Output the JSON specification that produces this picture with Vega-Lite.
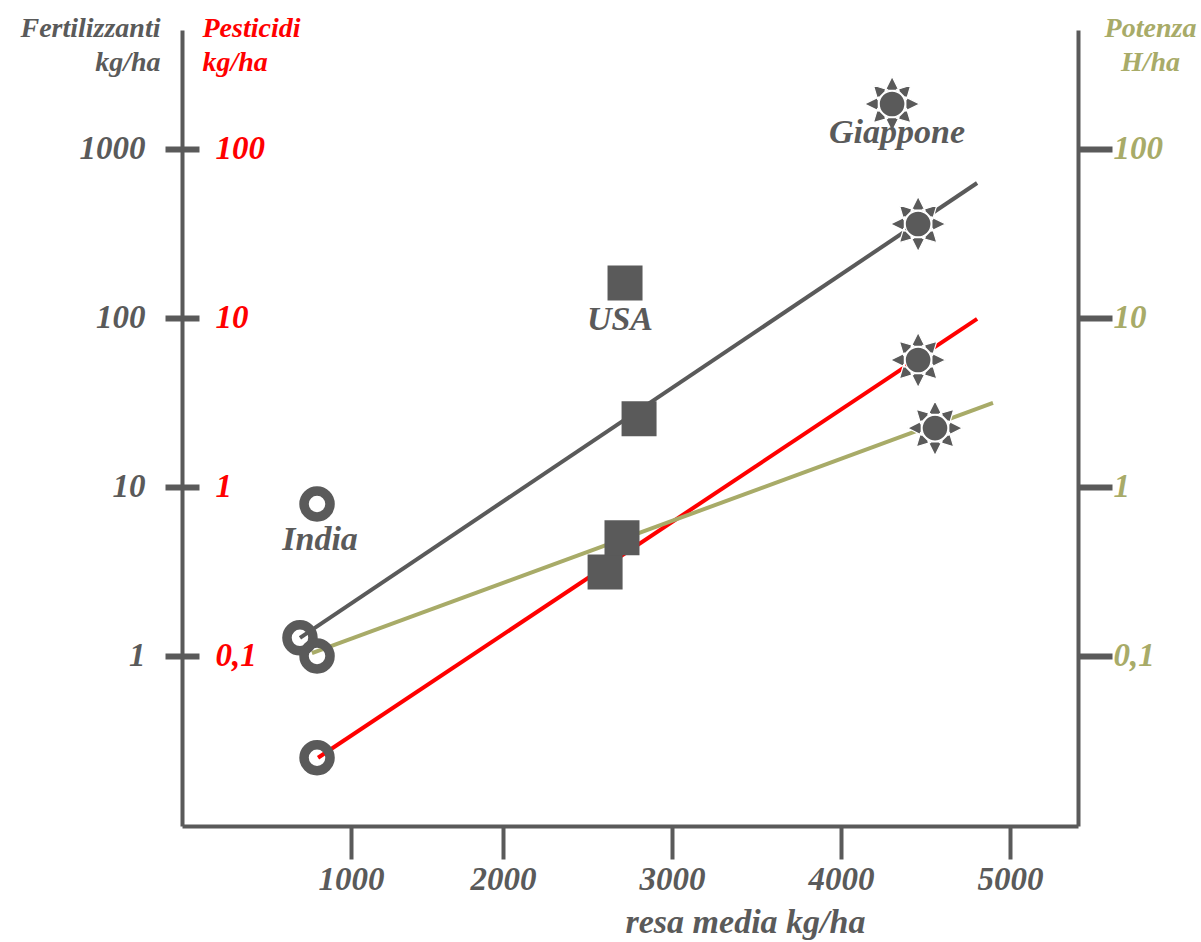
{
  "$schema": "https://vega.github.io/schema/vega-lite/v6.json",
  "width": 896,
  "height": 796,
  "autosize": {"type": "none"},
  "padding": {"left": 182, "top": 30, "right": 123, "bottom": 116},
  "background": "white",
  "datasets": {
    "points": [
      {"country": "India", "measure": "Fertilizzanti", "yield": 698, "value": 1.28},
      {"country": "India", "measure": "Pesticidi", "yield": 799, "value": 0.025},
      {"country": "India", "measure": "Potenza", "yield": 799, "value": 0.1},
      {"country": "USA", "measure": "Fertilizzanti", "yield": 2805, "value": 25.3},
      {"country": "USA", "measure": "Pesticidi", "yield": 2604, "value": 0.314},
      {"country": "USA", "measure": "Potenza", "yield": 2704, "value": 0.5},
      {"country": "Giappone", "measure": "Fertilizzanti", "yield": 4456, "value": 360},
      {"country": "Giappone", "measure": "Pesticidi", "yield": 4456, "value": 5.64},
      {"country": "Giappone", "measure": "Potenza", "yield": 4556, "value": 2.23}
    ],
    "fits": [
      {"measure": "Fertilizzanti", "yield": 698, "value": 1.28},
      {"measure": "Fertilizzanti", "yield": 4805, "value": 629},
      {"measure": "Pesticidi", "yield": 805, "value": 0.025},
      {"measure": "Pesticidi", "yield": 4805, "value": 9.87},
      {"measure": "Potenza", "yield": 769, "value": 0.104},
      {"measure": "Potenza", "yield": 4899, "value": 3.14}
    ],
    "countries": [
      {"country": "India", "yield": 799, "value": 7.93, "labelYield": 817, "labelValue": 4.86},
      {"country": "USA", "yield": 2722, "value": 161, "labelYield": 2692, "labelValue": 97.3},
      {"country": "Giappone", "yield": 4302, "value": 1846, "labelYield": 4331, "labelValue": 1244}
    ]
  },
  "layer": [
    {
      "data": {"name": "fits"},
      "transform": [{"filter": "datum.measure == 'Fertilizzanti'"}],
      "mark": {"type": "line", "color": "#5a5a5a", "strokeWidth": 4},
      "encoding": {
        "x": {
          "field": "yield", "type": "quantitative",
          "scale": {"domain": [0, 1000, 2000, 5402], "range": [0, 169, 321, 896], "nice": false, "zero": false},
          "axis": {
            "orient": "bottom", "values": [1000, 2000, 3000, 4000, 5000], "format": "d",
            "domainColor": "#5a5a5a", "domainWidth": 4, "tickSize": 33, "tickWidth": 4,
            "labelColor": "#5a5a5a", "labelPadding": 4, "labelFontSize": 33,
            "title": "resa media kg/ha", "titleColor": "#5a5a5a", "titleFontSize": 34,
            "titleX": 563, "titleY": 106, "titleAlign": "center", "titleBaseline": "alphabetic"
          }
        },
        "y": {"field": "value", "type": "quantitative", "scale": {"type": "log", "domain": [0.0986, 5059], "nice": false}, "axis": null}
      }
    },
    {
      "data": {"name": "fits"},
      "transform": [{"filter": "datum.measure == 'Pesticidi'"}],
      "mark": {"type": "line", "color": "#ff0000", "strokeWidth": 4},
      "encoding": {
        "x": {"field": "yield", "type": "quantitative"},
        "y": {"field": "value", "type": "quantitative", "scale": {"type": "log", "domain": [0.00986, 505.9], "nice": false}, "axis": null}
      }
    },
    {
      "data": {"name": "fits"},
      "transform": [{"filter": "datum.measure == 'Potenza'"}],
      "mark": {"type": "line", "color": "#a8ab68", "strokeWidth": 4},
      "encoding": {
        "x": {"field": "yield", "type": "quantitative"},
        "y": {"field": "value", "type": "quantitative", "scale": {"type": "log", "domain": [0.00986, 505.9], "nice": false}, "axis": null}
      }
    },
    {
      "data": {"name": "points"},
      "transform": [{"filter": "datum.measure == 'Fertilizzanti'"}],
      "mark": {"type": "point", "filled": true, "opacity": 1},
      "encoding": {
        "x": {"field": "yield", "type": "quantitative"},
        "y": {
          "field": "value", "type": "quantitative",
          "scale": {"type": "log", "domain": [0.0986, 5059], "nice": false},
          "axis": {
            "orient": "left", "values": [1, 10, 100, 1000], "format": "~g",
            "domain": true, "domainColor": "#5a5a5a", "domainWidth": 4,
            "tickSize": 17, "tickWidth": 6, "labelPadding": 20, "labelColor": "#5a5a5a",
            "labelBaseline": "middle",
            "title": ["Fertilizzanti", "kg/ha"], "titleColor": "#5a5a5a", "titleAngle": 0,
            "titleAlign": "right", "titleBaseline": "alphabetic", "titleX": -22, "titleY": 6,
            "titleFontSize": 28, "titleLineHeight": 34
          }
        },
        "shape": {"condition": [{"test": "datum.country == 'Giappone'", "value": "M0.47,0A0.47,0.47,0,1,1,-0.47,0A0.47,0.47,0,1,1,0.47,0Z M-0.25,-0.5L0,-1L0.25,-0.5Z M0.177,-0.53L0.68,-0.68L0.53,-0.177Z M0.5,-0.25L1,0L0.5,0.25Z M0.53,0.177L0.68,0.68L0.177,0.53Z M0.25,0.5L0,1L-0.25,0.5Z M-0.177,0.53L-0.68,0.68L-0.53,0.177Z M-0.5,0.25L-1,0L-0.5,-0.25Z M-0.53,-0.177L-0.68,-0.68L-0.177,-0.53Z"}, {"test": "datum.country == 'USA'", "value": "square"}], "value": "circle"},
        "fill": {"condition": {"test": "datum.country == 'India'", "value": "rgba(0,0,0,0)"}, "value": "#5a5a5a"},
        "stroke": {"condition": {"test": "datum.country == 'Giappone'", "value": "#ffffff"}, "value": "#5a5a5a"},
        "strokeWidth": {"condition": [{"test": "datum.country == 'Giappone'", "value": 1.2}, {"test": "datum.country == 'USA'", "value": 0}], "value": 9.5},
        "size": {"condition": [{"test": "datum.country == 'Giappone'", "value": 3025}, {"test": "datum.country == 'USA'", "value": 1225}], "value": 676}
      }
    },
    {
      "data": {"name": "points"},
      "transform": [{"filter": "datum.measure == 'Pesticidi'"}],
      "mark": {"type": "point", "filled": true, "opacity": 1},
      "encoding": {
        "x": {"field": "yield", "type": "quantitative"},
        "y": {
          "field": "value", "type": "quantitative",
          "scale": {"type": "log", "domain": [0.00986, 505.9], "nice": false},
          "axis": {
            "orient": "right", "offset": -896, "values": [0.1, 1, 10, 100], "format": "~g",
            "labelExpr": "replace(datum.label, '.', ',')",
            "domain": false, "tickSize": 17, "tickWidth": 6, "labelPadding": 16, "labelColor": "#ff0000",
            "labelBaseline": "middle",
            "title": ["Pesticidi", "kg/ha"], "titleColor": "#ff0000", "titleAngle": 0,
            "titleAlign": "left", "titleBaseline": "alphabetic", "titleX": 20, "titleY": 6,
            "titleFontSize": 28, "titleLineHeight": 34
          }
        },
        "shape": {"condition": [{"test": "datum.country == 'Giappone'", "value": "M0.47,0A0.47,0.47,0,1,1,-0.47,0A0.47,0.47,0,1,1,0.47,0Z M-0.25,-0.5L0,-1L0.25,-0.5Z M0.177,-0.53L0.68,-0.68L0.53,-0.177Z M0.5,-0.25L1,0L0.5,0.25Z M0.53,0.177L0.68,0.68L0.177,0.53Z M0.25,0.5L0,1L-0.25,0.5Z M-0.177,0.53L-0.68,0.68L-0.53,0.177Z M-0.5,0.25L-1,0L-0.5,-0.25Z M-0.53,-0.177L-0.68,-0.68L-0.177,-0.53Z"}, {"test": "datum.country == 'USA'", "value": "square"}], "value": "circle"},
        "fill": {"condition": {"test": "datum.country == 'India'", "value": "rgba(0,0,0,0)"}, "value": "#5a5a5a"},
        "stroke": {"condition": {"test": "datum.country == 'Giappone'", "value": "#ffffff"}, "value": "#5a5a5a"},
        "strokeWidth": {"condition": [{"test": "datum.country == 'Giappone'", "value": 1.2}, {"test": "datum.country == 'USA'", "value": 0}], "value": 9.5},
        "size": {"condition": [{"test": "datum.country == 'Giappone'", "value": 3025}, {"test": "datum.country == 'USA'", "value": 1225}], "value": 676}
      }
    },
    {
      "data": {"name": "points"},
      "transform": [{"filter": "datum.measure == 'Potenza'"}],
      "mark": {"type": "point", "filled": true, "opacity": 1},
      "encoding": {
        "x": {"field": "yield", "type": "quantitative"},
        "y": {
          "field": "value", "type": "quantitative",
          "scale": {"type": "log", "domain": [0.00986, 505.9], "nice": false},
          "axis": {
            "orient": "right", "values": [0.1, 1, 10, 100], "format": "~g",
            "labelExpr": "replace(datum.label, '.', ',')",
            "domain": true, "domainColor": "#5a5a5a", "domainWidth": 4,
            "tickSize": 34, "tickWidth": 6, "labelPadding": 1, "labelColor": "#a8ab68",
            "labelBaseline": "middle",
            "title": ["Potenza", "H/ha"], "titleColor": "#a8ab68", "titleAngle": 0,
            "titleAlign": "center", "titleBaseline": "alphabetic", "titleX": 72, "titleY": 6,
            "titleFontSize": 28, "titleLineHeight": 34
          }
        },
        "shape": {"condition": [{"test": "datum.country == 'Giappone'", "value": "M0.47,0A0.47,0.47,0,1,1,-0.47,0A0.47,0.47,0,1,1,0.47,0Z M-0.25,-0.5L0,-1L0.25,-0.5Z M0.177,-0.53L0.68,-0.68L0.53,-0.177Z M0.5,-0.25L1,0L0.5,0.25Z M0.53,0.177L0.68,0.68L0.177,0.53Z M0.25,0.5L0,1L-0.25,0.5Z M-0.177,0.53L-0.68,0.68L-0.53,0.177Z M-0.5,0.25L-1,0L-0.5,-0.25Z M-0.53,-0.177L-0.68,-0.68L-0.177,-0.53Z"}, {"test": "datum.country == 'USA'", "value": "square"}], "value": "circle"},
        "fill": {"condition": {"test": "datum.country == 'India'", "value": "rgba(0,0,0,0)"}, "value": "#5a5a5a"},
        "stroke": {"condition": {"test": "datum.country == 'Giappone'", "value": "#ffffff"}, "value": "#5a5a5a"},
        "strokeWidth": {"condition": [{"test": "datum.country == 'Giappone'", "value": 1.2}, {"test": "datum.country == 'USA'", "value": 0}], "value": 9.5},
        "size": {"condition": [{"test": "datum.country == 'Giappone'", "value": 3025}, {"test": "datum.country == 'USA'", "value": 1225}], "value": 676}
      }
    },
    {
      "data": {"name": "countries"},
      "mark": {"type": "point", "filled": true, "opacity": 1},
      "encoding": {
        "x": {"field": "yield", "type": "quantitative"},
        "y": {"field": "value", "type": "quantitative", "scale": {"type": "log", "domain": [0.0986, 5059], "nice": false}, "axis": null},
        "shape": {"condition": [{"test": "datum.country == 'Giappone'", "value": "M0.47,0A0.47,0.47,0,1,1,-0.47,0A0.47,0.47,0,1,1,0.47,0Z M-0.25,-0.5L0,-1L0.25,-0.5Z M0.177,-0.53L0.68,-0.68L0.53,-0.177Z M0.5,-0.25L1,0L0.5,0.25Z M0.53,0.177L0.68,0.68L0.177,0.53Z M0.25,0.5L0,1L-0.25,0.5Z M-0.177,0.53L-0.68,0.68L-0.53,0.177Z M-0.5,0.25L-1,0L-0.5,-0.25Z M-0.53,-0.177L-0.68,-0.68L-0.177,-0.53Z"}, {"test": "datum.country == 'USA'", "value": "square"}], "value": "circle"},
        "fill": {"condition": {"test": "datum.country == 'India'", "value": "rgba(0,0,0,0)"}, "value": "#5a5a5a"},
        "stroke": {"condition": {"test": "datum.country == 'Giappone'", "value": "#ffffff"}, "value": "#5a5a5a"},
        "strokeWidth": {"condition": [{"test": "datum.country == 'Giappone'", "value": 1.2}, {"test": "datum.country == 'USA'", "value": 0}], "value": 9.5},
        "size": {"condition": [{"test": "datum.country == 'Giappone'", "value": 3025}, {"test": "datum.country == 'USA'", "value": 1225}], "value": 676}
      }
    },
    {
      "data": {"name": "countries"},
      "mark": {"type": "text", "font": "Liberation Serif", "fontSize": 34, "fontStyle": "italic", "fontWeight": "bold", "color": "#5a5a5a", "align": "center", "baseline": "middle"},
      "encoding": {
        "x": {"field": "labelYield", "type": "quantitative"},
        "y": {"field": "labelValue", "type": "quantitative", "scale": {"type": "log", "domain": [0.0986, 5059], "nice": false}, "axis": null},
        "text": {"field": "country", "type": "nominal"}
      }
    }
  ],
  "resolve": {"scale": {"y": "independent"}, "axis": {"y": "independent"}},
  "config": {
    "view": {"stroke": null},
    "font": "Liberation Serif",
    "axis": {
      "grid": false,
      "labelFont": "Liberation Serif", "titleFont": "Liberation Serif",
      "labelFontStyle": "italic", "labelFontWeight": "bold",
      "titleFontStyle": "italic", "titleFontWeight": "bold",
      "labelFontSize": 33, "tickColor": "#5a5a5a",
      "labelOverlap": false, "labelFlush": false, "labelBound": false
    }
  }
}
